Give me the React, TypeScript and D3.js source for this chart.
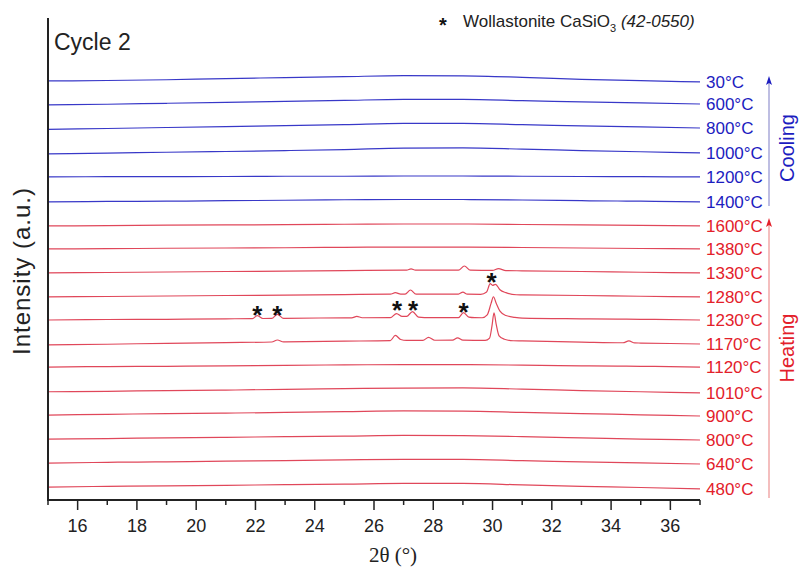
import React from 'react';
import * as d3 from 'd3';

// ---- data ----
const labels = ['480°C', '640°C', '800°C', '900°C', '1010°C', '1120°C', '1170°C', '1230°C', '1280°C', '1330°C', '1380°C', '1600°C', '1400°C', '1200°C', '1000°C', '800°C', '600°C', '30°C'];
const stages = ['h', 'h', 'h', 'h', 'h', 'h', 'h', 'h', 'h', 'h', 'h', 'h', 'c', 'c', 'c', 'c', 'c', 'c'];
// vertical stacking offset of each pattern (a.u.)
const offsets = [0.46, 1.5, 2.5, 3.5, 4.46, 5.54, 6.5, 7.5, 8.46, 9.46, 10.46, 11.42, 12.42, 13.46, 14.46, 15.5, 16.5, 17.42];
// amorphous background sampled at these 2θ values (relative to the pattern's offset)
const bgTheta = [15, 17, 19, 21, 23, 25, 27, 29, 31, 33, 35, 37];
const backgrounds = [
  [0.08, 0.11, 0.13, 0.15, 0.18, 0.2, 0.23, 0.23, 0.17, 0.11, 0.06, 0],
  [0.04, 0.07, 0.09, 0.12, 0.14, 0.17, 0.19, 0.19, 0.14, 0.09, 0.05, 0],
  [0.04, 0.06, 0.09, 0.11, 0.14, 0.16, 0.19, 0.18, 0.14, 0.09, 0.04, 0],
  [0.04, 0.07, 0.1, 0.12, 0.15, 0.18, 0.21, 0.2, 0.15, 0.1, 0.05, 0],
  [0.05, 0.07, 0.1, 0.12, 0.15, 0.18, 0.2, 0.21, 0.16, 0.1, 0.05, 0],
  [0, 0.02, 0.03, 0.05, 0.07, 0.09, 0.1, 0.1, 0.08, 0.05, 0.03, 0],
  [-0.04, -0.01, 0.03, 0.06, 0.09, 0.12, 0.15, 0.16, 0.13, 0.08, 0.04, 0],
  [0, 0.02, 0.03, 0.05, 0.07, 0.09, 0.1, 0.1, 0.08, 0.05, 0.03, 0],
  [0, 0.02, 0.04, 0.06, 0.08, 0.1, 0.12, 0.12, 0.09, 0.06, 0.03, 0],
  [0, 0.02, 0.04, 0.06, 0.08, 0.1, 0.12, 0.12, 0.09, 0.06, 0.03, 0],
  [0, 0.01, 0.03, 0.04, 0.05, 0.07, 0.08, 0.08, 0.06, 0.04, 0.02, 0],
  [0, 0.01, 0.03, 0.04, 0.05, 0.07, 0.08, 0.08, 0.06, 0.04, 0.02, 0],
  [0, 0.02, 0.03, 0.05, 0.07, 0.09, 0.1, 0.1, 0.08, 0.05, 0.03, 0],
  [0, 0.01, 0.01, 0.02, 0.03, 0.03, 0.04, 0.04, 0.03, 0.02, 0.01, 0],
  [-0.04, -0.01, 0.03, 0.06, 0.1, 0.14, 0.2, 0.21, 0.16, 0.1, 0.05, 0],
  [-0.06, -0.02, 0.02, 0.06, 0.1, 0.14, 0.19, 0.19, 0.14, 0.09, 0.05, 0],
  [-0.04, -0.01, 0.03, 0.07, 0.11, 0.15, 0.19, 0.19, 0.14, 0.09, 0.05, 0],
  [0.04, 0.06, 0.09, 0.14, 0.18, 0.22, 0.26, 0.25, 0.19, 0.11, 0.05, 0],
];
// diffraction peaks: groups of [2θ, height above background]
const peaks: [number, number][][][] = [
  [], [], [], [], [], [],
  [
    [[22.55, 0], [22.74, 0.08], [22.95, 0]],
    [[26.55, 0], [26.72, 0.21], [26.9, 0.04], [27.1, 0]],
    [[27.65, 0], [27.84, 0.12], [28.05, 0]],
    [[28.65, 0], [28.82, 0.1], [29.0, 0]],
    [[29.75, 0], [29.9, 0.1], [29.98, 0.6], [30.05, 1.15], [30.12, 0.7], [30.22, 0.2], [30.4, 0.06], [30.7, 0]],
    [[34.4, 0], [34.6, 0.08], [34.8, 0]],
  ],
  [
    [[21.9, 0], [22.06, 0.12], [22.25, 0]],
    [[22.55, 0], [22.74, 0.17], [22.95, 0]],
    [[25.25, 0], [25.42, 0.06], [25.6, 0]],
    [[26.55, 0], [26.76, 0.17], [26.95, 0.05], [27.1, 0.05], [27.3, 0.25], [27.5, 0.02], [27.7, 0]],
    [[28.85, 0], [29.02, 0.21], [29.2, 0.02], [29.4, 0]],
    [[29.65, 0], [29.82, 0.12], [29.95, 0.6], [30.03, 0.88], [30.12, 0.62], [30.25, 0.28], [30.45, 0.1], [30.75, 0.03], [31.0, 0]],
  ],
  [
    [[26.55, 0], [26.72, 0.06], [26.9, 0]],
    [[27.05, 0], [27.23, 0.17], [27.42, 0]],
    [[28.85, 0], [29.0, 0.08], [29.15, 0]],
    [[29.6, 0], [29.8, 0.1], [29.92, 0.45], [30.0, 0.38], [30.1, 0.42], [30.25, 0.2], [30.45, 0.08], [30.8, 0]],
  ],
  [
    [[27.1, 0], [27.25, 0.05], [27.4, 0]],
    [[28.85, 0], [29.05, 0.17], [29.25, 0]],
    [[30.0, 0], [30.2, 0.08], [30.45, 0]],
  ],
  [], [], [], [], [], [], [], [],
];
// Wollastonite reflections marked with *
const starTheta = [22.06, 22.74, 26.78, 27.32, 29.02, 29.97];
const starLevel = [7.92, 7.92, 8.12, 8.12, 8.04, 9.29];
const xTicks = d3.range(15, 38);
const xTickLabels = [16, 18, 20, 22, 24, 26, 28, 30, 32, 34, 36];

const W = 799;
const H = 567;
const RED_LINE = '#e0475a';
const BLUE_LINE = '#3838c8';
const RED_TXT = '#e3202a';
const BLUE_TXT = '#1c1cc0';
const SANS = '"Liberation Sans", Arial, Helvetica, sans-serif';

export default function App() {
  const x = d3.scaleLinear().domain([15, 37]).range([48, 700]);
  const y = d3.scaleLinear().domain([0, 20]).range([500, 20]);
  const line = d3
    .line<[number, number]>()
    .x((d) => x(d[0]))
    .y((d) => y(d[1]))
    .curve(d3.curveMonotoneX);

  const traces = labels.map((lab, i) => {
    const bg = d3.scaleLinear().domain(bgTheta).range(backgrounds[i]);
    const groups = peaks[i];
    const pts: [number, number][] = [];
    bgTheta.forEach((t, k) => {
      if (!groups.some((g) => t >= g[0][0] && t <= g[g.length - 1][0])) pts.push([t, offsets[i] + backgrounds[i][k]]);
    });
    groups.forEach((g) => g.forEach(([t, h]) => pts.push([t, offsets[i] + bg(t) + h])));
    pts.sort((a, b) => a[0] - b[0]);
    return { lab, stage: stages[i], d: line(pts) || '', yEnd: y(offsets[i]) };
  });

  const coolTop = y(offsets[17]);
  const coolBot = y(offsets[12]);
  const heatTop = y(offsets[11]);

  return (
    <svg width={W} height={H} style={{ display: 'block', position: 'absolute', left: 0, top: 0, background: '#fff' }}>
      {/* traces */}
      {traces.map((t, i) => (
        <path key={i} d={t.d} fill="none" stroke={t.stage === 'h' ? RED_LINE : BLUE_LINE} strokeWidth={1.2} />
      ))}
      {/* temperature labels */}
      {traces.map((t, i) => (
        <text key={'l' + i} x={706} y={t.yEnd + 6} fontFamily={SANS} fontSize={17} fill={t.stage === 'h' ? RED_TXT : BLUE_TXT}>
          {t.lab}
        </text>
      ))}
      {/* stars */}
      {starTheta.map((t, i) => (
        <text key={'s' + i} x={x(t)} y={y(starLevel[i]) + 14} textAnchor="middle" fontFamily={SANS} fontSize={26} fontWeight="bold" fill="#111">
          *
        </text>
      ))}
      {/* axes */}
      <line x1={x(15)} x2={x(15)} y1={18} y2={y(0) + 1} stroke="#222" strokeWidth={2} />
      <line x1={x(15) - 1} x2={x(37)} y1={y(0)} y2={y(0)} stroke="#222" strokeWidth={2} />
      {xTicks.map((t) => (
        <line key={'t' + t} x1={x(t)} x2={x(t)} y1={y(0)} y2={y(0) + (t % 2 === 0 ? 10 : 5)} stroke="#222" strokeWidth={1.5} />
      ))}
      {xTickLabels.map((t) => (
        <text key={'tl' + t} x={x(t)} y={532} textAnchor="middle" fontFamily={SANS} fontSize={18} fill="#222">
          {t}
        </text>
      ))}
      <text x={393} y={562} textAnchor="middle" fontFamily='"Liberation Serif", "Times New Roman", serif' fontSize={21} fill="#222">
        2θ (°)
      </text>
      <text transform="translate(30,271) rotate(-90)" textAnchor="middle" fontFamily={SANS} fontSize={24} letterSpacing={1} fill="#222">
        Intensity (a.u.)
      </text>
      <text x={54} y={50} fontFamily={SANS} fontSize={23} fill="#222">
        Cycle 2
      </text>
      {/* legend */}
      <text x={443} y={32} textAnchor="middle" fontFamily={SANS} fontSize={20} fontWeight="bold" fill="#111">
        *
      </text>
      <text x={463} y={27} fontFamily={SANS} fontSize={17} fill="#222">
        Wollastonite CaSiO
        <tspan fontSize={11} dy={5}>3</tspan>
        <tspan dy={-5} fontStyle="italic"> (42-0550)</tspan>
      </text>
      {/* stage arrows */}
      <line x1={769} x2={769} y1={coolBot + 4} y2={coolTop - 2} stroke="#a8a8d8" strokeWidth={1.5} />
      <path d={`M769,${coolTop - 6} l-3,9 l3,-2 l3,2 z`} fill={BLUE_TXT} />
      <line x1={769} x2={769} y1={y(0) - 2} y2={heatTop - 4} stroke="#f0a8a8" strokeWidth={1.5} />
      <path d={`M769,${heatTop - 8} l-3,9 l3,-2 l3,2 z`} fill={RED_TXT} />
      <text transform="translate(794,148) rotate(-90)" textAnchor="middle" fontFamily={SANS} fontSize={20} fill={BLUE_TXT}>
        Cooling
      </text>
      <text transform="translate(794,348) rotate(-90)" textAnchor="middle" fontFamily={SANS} fontSize={20} fill={RED_TXT}>
        Heating
      </text>
    </svg>
  );
}
